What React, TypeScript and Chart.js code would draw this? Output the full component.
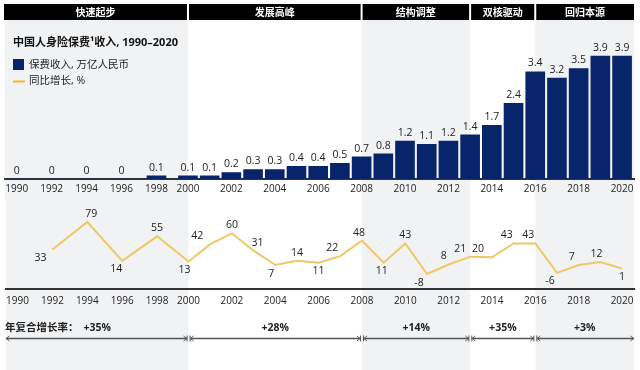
import React, { useEffect, useRef } from 'react';
import { Chart, registerables, LinearScale } from 'chart.js';

Chart.register(...registerables);

// ---------- data ----------
const years = [1990, 1992, 1994, 1996, 1998, 2000, 2001, 2002, 2003, 2004, 2005, 2006, 2007, 2008, 2009, 2010, 2011, 2012, 2013, 2014, 2015, 2016, 2017, 2018, 2019, 2020];
const premiumTrnRmb = [0, 0, 0, 0, 0.1, 0.1, 0.1, 0.2, 0.3, 0.3, 0.4, 0.4, 0.5, 0.7, 0.8, 1.2, 1.1, 1.2, 1.4, 1.7, 2.4, 3.4, 3.2, 3.5, 3.9, 3.9];
const growthPct: (number | null)[] = [null, 33, 79, 14, 55, 13, 42, 60, 31, 7, 14, 11, 22, 48, 11, 43, -8, 8, 21, 20, 43, 43, -6, 7, 12, 1];
const tickYears = [1990, 1992, 1994, 1996, 1998, 2000, 2002, 2004, 2006, 2008, 2010, 2012, 2014, 2016, 2018, 2020];
const periodNames = ['快速起步', '发展高峰', '结构调整', '双核驱动', '回归本源'];
const periodInnerBounds = [2000, 2008, 2013, 2016];
const periodCagr = ['+35%', '+28%', '+14%', '+35%', '+3%'];
const periodShaded = [true, false, true, false, true];

// label placement (style only)
const growthLabelSide = ['', 'b', 'a', 'b', 'a', 'b', 'a', 'a', 'a', 'b', 'a', 'b', 'a', 'a', 'b', 'a', 'b', 'a', 'a', 'a', 'a', 'a', 'b', 'a', 'a', 'b'];
const growthLabelDx = [0, -12, 4, -6, 0, -4, -13, 0, 4, -4, 0, 0, -8, -3, -2, 0, -8, -5, -10, -14, -7, -7, -7, -7, -4, 0];

// ---------- styles ----------
const FONT = "'Open Sans', 'Noto Sans CJK SC', sans-serif";
const NAVY = '#08246b';
const GOLD = '#f0c764';
const SHADE = '#f1f2f4';
const TEXT = '#222222';
const X_MIN = 1989.33;
const X_MAX = 2020.55;

// broken year axis: the 1990s (2-year steps) are compressed
const warp = (v: number) =>
  v >= 2000 ? v : v <= 1998 ? 1998.55 - (1998 - v) * 0.805 : 1998.55 + (v - 1998) * 0.725;
const unwarp = (w: number) =>
  w >= 2000 ? w : w <= 1998.55 ? 1998 - (1998.55 - w) / 0.805 : 1998 + (w - 1998.55) / 0.725;

class BrokenYearScale extends (LinearScale as any) {
  static id = 'brokenYear';
  static defaults = { ...(LinearScale as any).defaults };
  getPixelForValue(value: number) {
    const s = warp(this.min);
    const e = warp(this.max);
    return this.getPixelForDecimal((warp(value) - s) / (e - s));
  }
  getValueForPixel(pixel: number) {
    const s = warp(this.min);
    const e = warp(this.max);
    return unwarp(s + this.getDecimalForPixel(pixel) * (e - s));
  }
}
Chart.register(BrokenYearScale as any);

function xScale(pad: number) {
  return {
    type: 'brokenYear',
    min: X_MIN,
    max: X_MAX,
    bounds: 'data',
    offset: false,
    grid: { display: false, drawTicks: false, offset: false },
    border: { display: true, color: '#333333', width: 2 },
    ticks: {
      autoSkip: false,
      maxRotation: 0,
      minRotation: 0,
      padding: pad,
      color: TEXT,
      font: { family: FONT, size: 10 },
      callback: (v: any) => String(v),
    },
    afterBuildTicks: (s: any) => {
      s.ticks = tickYears.map((v) => ({ value: v }));
    },
    afterFit: (s: any) => {
      s.height = 21;
    },
  };
}

function periodEdges(x: any): number[] {
  return [X_MIN, ...periodInnerBounds, X_MAX].map((v) => x.getPixelForValue(v));
}

const topDecor = {
  id: 'topDecor',
  beforeDraw(chart: any) {
    const { ctx } = chart;
    const x = chart.scales.x;
    const edges = periodEdges(x);
    ctx.save();
    for (let i = 0; i < periodNames.length; i++) {
      const a = edges[i];
      const b = edges[i + 1];
      if (periodShaded[i]) {
        ctx.fillStyle = SHADE;
        ctx.fillRect(a, 20, b - a, chart.height - 20);
      }
      const ha = i === 0 ? a - 1 : a + 1;
      const hb = i === periodNames.length - 1 ? b : b - 1;
      ctx.fillStyle = '#000000';
      ctx.fillRect(ha, 4, hb - ha, 16);
      ctx.fillStyle = '#ffffff';
      ctx.font = `bold 10px 'Noto Sans CJK SC', sans-serif`;
      ctx.textAlign = 'center';
      ctx.textBaseline = 'middle';
      ctx.fillText(periodNames[i], (ha + hb) / 2, 12.5);
    }
    ctx.restore();
  },
  afterDatasetsDraw(chart: any) {
    const { ctx } = chart;
    const meta = chart.getDatasetMeta(0);
    ctx.save();
    ctx.fillStyle = TEXT;
    ctx.font = `10.5px ${FONT}`;
    ctx.textAlign = 'center';
    ctx.textBaseline = 'bottom';
    meta.data.forEach((bar: any, i: number) => {
      ctx.fillText(String(premiumTrnRmb[i]), bar.x, bar.y - 3);
    });
    ctx.restore();
  },
  afterDraw(chart: any) {
    const { ctx } = chart;
    ctx.save();
    ctx.fillStyle = '#111111';
    ctx.textAlign = 'left';
    ctx.textBaseline = 'middle';
    ctx.font = `bold 11px ${FONT}`;
    ctx.fillText('中国人身险保费¹收入, 1990–2020', 13, 43);
    ctx.fillStyle = NAVY;
    ctx.fillRect(13, 59, 11, 11);
    ctx.strokeStyle = '#f5b52a';
    ctx.lineWidth = 2;
    ctx.beginPath();
    ctx.moveTo(13, 81.5);
    ctx.lineTo(25, 81.5);
    ctx.stroke();
    ctx.fillStyle = TEXT;
    ctx.font = `10.5px ${FONT}`;
    ctx.fillText('保费收入, 万亿人民币', 29, 65);
    ctx.fillText('同比增长, %', 29, 81.5);
    ctx.restore();
  },
};

const bottomDecor = {
  id: 'bottomDecor',
  beforeDraw(chart: any) {
    const { ctx } = chart;
    const edges = periodEdges(chart.scales.x);
    ctx.save();
    ctx.fillStyle = SHADE;
    for (let i = 0; i < periodNames.length; i++) {
      if (periodShaded[i]) ctx.fillRect(edges[i], 0, edges[i + 1] - edges[i], chart.height);
    }
    ctx.restore();
  },
  afterDatasetsDraw(chart: any) {
    const { ctx } = chart;
    const meta = chart.getDatasetMeta(0);
    ctx.save();
    ctx.fillStyle = TEXT;
    ctx.font = `10.5px ${FONT}`;
    ctx.textAlign = 'center';
    ctx.textBaseline = 'middle';
    meta.data.forEach((pt: any, i: number) => {
      const v = growthPct[i];
      if (v === null || pt.skip) return;
      const dy = growthLabelSide[i] === 'b' ? 8.5 : -8;
      ctx.fillText(String(v), pt.x + growthLabelDx[i], pt.y + dy);
    });
    ctx.restore();
  },
  afterDraw(chart: any) {
    const { ctx } = chart;
    const edges = periodEdges(chart.scales.x);
    ctx.save();
    ctx.fillStyle = TEXT;
    ctx.textBaseline = 'middle';
    ctx.textAlign = 'left';
    ctx.font = `bold 10.5px ${FONT}`;
    ctx.fillText('年复合增长率：', 5, 128);
    ctx.textAlign = 'center';
    for (let i = 0; i < periodCagr.length; i++) {
      ctx.fillText(periodCagr[i], (edges[i] + edges[i + 1]) / 2, 128);
    }
    const y = 138.5;
    ctx.strokeStyle = '#555555';
    for (let i = 0; i < periodCagr.length; i++) {
      const a = edges[i] + (i === 0 ? 0 : 1.5);
      const b = edges[i + 1] - (i === periodCagr.length - 1 ? 0 : 1.5);
      ctx.lineWidth = 1.6;
      ctx.beginPath();
      ctx.moveTo(a, y);
      ctx.lineTo(b, y);
      ctx.stroke();
      ctx.lineWidth = 1;
      ctx.beginPath();
      ctx.moveTo(a + 3.5, y - 2.5);
      ctx.lineTo(a + 0.5, y);
      ctx.lineTo(a + 3.5, y + 2.5);
      ctx.moveTo(b - 3.5, y - 2.5);
      ctx.lineTo(b - 0.5, y);
      ctx.lineTo(b - 3.5, y + 2.5);
      ctx.stroke();
      if (i > 0) {
        ctx.beginPath();
        ctx.moveTo(a, y - 3);
        ctx.lineTo(a, y + 3);
        ctx.stroke();
      }
      if (i < periodCagr.length - 1) {
        ctx.beginPath();
        ctx.moveTo(b, y - 3);
        ctx.lineTo(b, y + 3);
        ctx.stroke();
      }
    }
    ctx.restore();
  },
};

export default function App() {
  const topRef = useRef<HTMLCanvasElement | null>(null);
  const bottomRef = useRef<HTMLCanvasElement | null>(null);

  useEffect(() => {
    if (!topRef.current || !bottomRef.current) return;
    const top = new Chart(topRef.current, {
      type: 'bar',
      data: {
        labels: years as any,
        datasets: [
          {
            data: premiumTrnRmb,
            backgroundColor: NAVY,
            borderWidth: 0,
            barThickness: 19,
          },
        ],
      },
      options: {
        responsive: false,
        animation: false,
        devicePixelRatio: 1,
        events: [],
        layout: { padding: { left: 5, right: 6, top: 21.3, bottom: 0 } },
        plugins: { legend: { display: false }, tooltip: { enabled: false }, title: { display: false } },
        scales: {
          x: xScale(4) as any,
          y: { display: false, min: 0, max: 5 },
        },
      },
      plugins: [topDecor],
    } as any);

    const bottom = new Chart(bottomRef.current, {
      type: 'line',
      data: {
        labels: years as any,
        datasets: [
          {
            data: growthPct,
            borderColor: GOLD,
            borderWidth: 2,
            pointRadius: 0,
            tension: 0,
            fill: false,
          },
        ],
      },
      options: {
        responsive: false,
        animation: false,
        devicePixelRatio: 1,
        events: [],
        layout: { padding: { left: 5, right: 6, top: 10, bottom: 60 } },
        plugins: { legend: { display: false }, tooltip: { enabled: false }, title: { display: false } },
        scales: {
          x: xScale(6) as any,
          y: { display: false, min: -33, max: 99 },
        },
      },
      plugins: [bottomDecor],
    } as any);

    return () => {
      top.destroy();
      bottom.destroy();
    };
  }, []);

  return (
    <div style={{ position: 'absolute', left: 0, top: 0, width: 640, height: 370, background: '#ffffff' }}>
      <canvas ref={topRef} width={640} height={200} style={{ display: 'block', width: 640, height: 200 }} />
      <canvas ref={bottomRef} width={640} height={170} style={{ display: 'block', width: 640, height: 170 }} />
    </div>
  );
}
